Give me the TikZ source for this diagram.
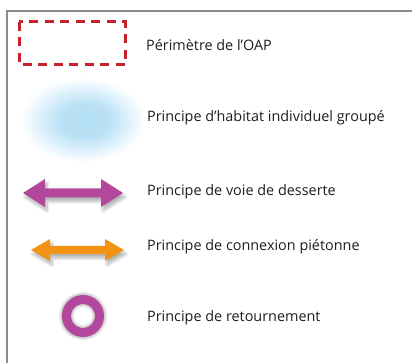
\documentclass[tikz,border=0pt]{standalone}
\usepackage{fontspec}
\setmainfont{Open Sans}
\usetikzlibrary{shadows.blur}

\definecolor{framegray}{HTML}{8C8C8C}
\definecolor{oapred}{HTML}{C8202F}
\definecolor{voiepurple}{HTML}{B2479B}
\definecolor{pietonorange}{HTML}{F39314}
\definecolor{textgray}{HTML}{1E1E1E}

\pgfdeclareradialshading{habitatglow}{\pgfpoint{3bp}{-1bp}}{rgb(0bp)=(0.70,0.87,0.95); rgb(9bp)=(0.73,0.88,0.96); rgb(17bp)=(0.88,0.95,0.99); rgb(23bp)=(1,1,1); rgb(50bp)=(1,1,1)}

\begin{document}
\begin{tikzpicture}[x=1pt, y=-1pt,
  legend/.style={anchor=west, inner sep=0pt, text=textgray, font=\fontsize{14.4}{16}\selectfont},
  symshadow/.style={blur shadow={shadow xshift=2pt, shadow yshift=-4pt, shadow blur steps=8, shadow blur radius=3pt, shadow opacity=30}}]

\useasboundingbox (0,0) rectangle (412,363);

\coordinate (fbottom) at (7,363);
\coordinate (fcorner) at (7,11);
\coordinate (fright) at (412,11);
\draw[framegray, line width=1.5pt] (fbottom)--(fcorner)--(fright);

\coordinate (oapnw) at (19,22);
\coordinate (oapse) at (125,65);
\coordinate (habitat) at (78,119);
\coordinate (voie) at (73,193);
\coordinate (pieton) at (77.5,250);
\coordinate (ring) at (83,316);

\draw[oapred, line width=3pt, dash pattern=on 9pt off 6.5pt] (oapnw) rectangle (oapse);

\shade[shading=habitatglow] (habitat) ellipse [x radius=68, y radius=46];

\fill[voiepurple, symshadow, shift={(voie)}] (-50,0)--(-28,-14)--(-28,-4.5)--(28,-4.5)--(28,-14)--(50,0)--(28,14)--(28,4.5)--(-28,4.5)--(-28,14)--cycle;

\fill[pietonorange, symshadow, shift={(pieton)}] (-46.5,0)--(-27.5,-11)--(-27.5,-4)--(27.5,-4)--(27.5,-11)--(46.5,0)--(27.5,11)--(27.5,4)--(-27.5,4)--(-27.5,11)--cycle;

\foreach \w in {9,11,13,15}
  \draw[black, opacity=0.07, line width=\w pt, shift={(2,4)}] (ring) circle (16.5);
\draw[voiepurple, line width=9pt] (ring) circle (16.5);

\node[legend] (toap) at (146,45) {Périmètre de l’OAP};
\node[legend] (thabitat) at (147,118) {Principe d’habitat individuel groupé};
\node[legend] (tvoie) at (147,192) {Principe de voie de desserte};
\node[legend] (tpieton) at (147,247) {Principe de connexion piétonne};
\node[legend] (tring) at (147,318) {Principe de retournement};

\end{tikzpicture}
\end{document}
